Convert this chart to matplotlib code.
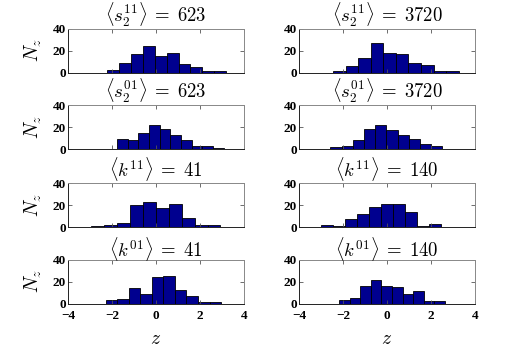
import numpy as np
import matplotlib
matplotlib.use("Agg")
import matplotlib.pyplot as plt

plt.rcParams['mathtext.fontset'] = 'cm'

titles = [r'$\langle s_2^{11}\rangle\;=\;623$', r'$\langle s_2^{11}\rangle\;=\;3720$',
          r'$\langle s_2^{01}\rangle\;=\;623$', r'$\langle s_2^{01}\rangle\;=\;3720$',
          r'$\langle k^{11}\rangle\;=\;41$', r'$\langle k^{11}\rangle\;=\;140$',
          r'$\langle k^{01}\rangle\;=\;41$', r'$\langle k^{01}\rangle\;=\;140$']

# histogram range (min, max of z) for each panel, 10 bins each
z_min = [-2.22, -2.45, -1.78, -2.57, -2.96, -3.02, -2.29, -2.18]
z_max = [3.19, 3.26, 3.08, 2.51, 2.93, 2.45, 2.96, 2.63]

counts = [
    [2, 9, 17, 24, 15, 18, 8, 5, 1, 1],
    [1, 6, 13, 27, 18, 17, 9, 7, 1, 1],
    [9, 8, 15, 22, 18, 13, 8, 3, 3, 1],
    [2, 3, 8, 18, 22, 17, 13, 9, 5, 3],
    [1, 2, 4, 20, 23, 17, 21, 8, 2, 2],
    [2, 1, 7, 12, 18, 21, 21, 14, 1, 3],
    [3, 4, 14, 9, 24, 25, 12, 7, 1, 1],
    [3, 5, 16, 21, 16, 15, 9, 11, 2, 2],
]

x_ticks = [-4, -2, 0, 2, 4]
x_tick_labels = [u'\u22124', u'\u22122', '0', '2', '4']
y_ticks = [0, 20, 40]

fig = plt.figure(figsize=(5.26, 3.53), dpi=100)

W, H = 526, 353
col_x = [68, 299]
col_w = 176
row_top = [28.5, 105, 183, 259.5]
row_h = 44

for i in range(8):
    r, c = divmod(i, 2)
    left = col_x[c] / W
    bottom = 1 - (row_top[r] + row_h) / H
    ax = fig.add_axes([left, bottom, col_w / W, row_h / H])
    edges = np.linspace(z_min[i], z_max[i], len(counts[i]) + 1)
    ax.bar(edges[:-1], counts[i], width=np.diff(edges), align='edge',
           color='#00008f', edgecolor='black', linewidth=0.6)
    ax.set_xlim(-4, 4)
    ax.set_ylim(0, 40)
    ax.set_xticks(x_ticks)
    ax.set_yticks(y_ticks)
    ax.tick_params(direction='in', length=3, width=0.6, top=True, right=True,
                   colors='#555555', labelcolor='black')
    ax.tick_params(axis='y', pad=1.5)
    ax.tick_params(axis='x', pad=5)
    ax.set_yticklabels([str(v) for v in y_ticks], fontfamily='Liberation Serif',
                       fontweight='bold', fontsize=9.5)
    if r == 3:
        ax.set_xticklabels(x_tick_labels, fontfamily='Liberation Serif',
                           fontweight='bold', fontsize=9.5)
        ax.set_xlabel(r'$z$', fontsize=14, labelpad=5)
    else:
        ax.set_xticklabels([])
    if c == 0:
        ax.set_ylabel(r'$N_z$', fontsize=14, labelpad=6)
    for s in ['left', 'bottom']:
        ax.spines[s].set_color('#222222')
        ax.spines[s].set_linewidth(0.7)
    for s in ['top', 'right']:
        ax.spines[s].set_color('#888888')
        ax.spines[s].set_linewidth(0.7)
    ax.set_title(titles[i], fontsize=13.5, pad=2)

fig.savefig('out.png', dpi=100)
